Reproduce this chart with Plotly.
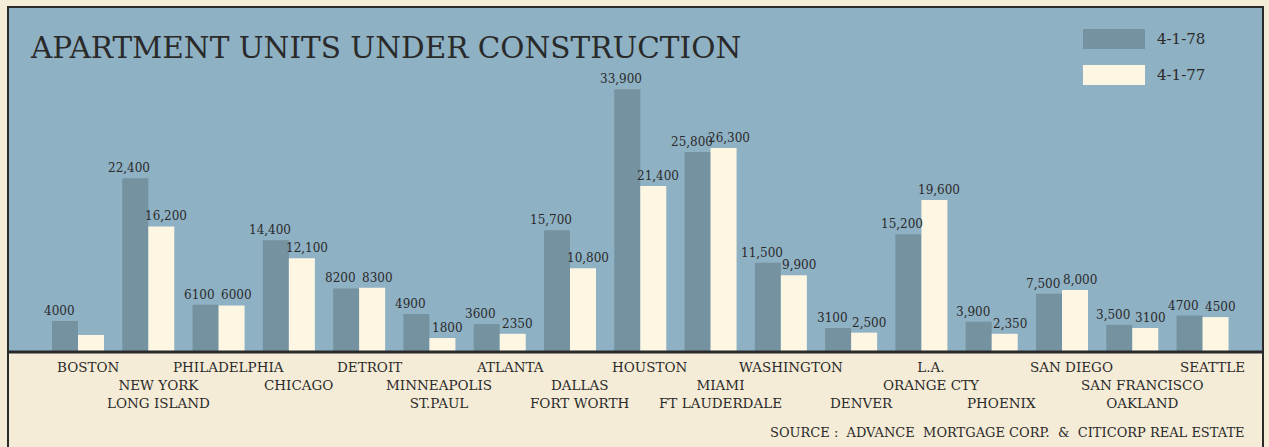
import plotly.graph_objects as go

# ---------------- data ----------------
cities = ["BOSTON", "NEW YORK<br>LONG ISLAND", "PHILADELPHIA", "CHICAGO", "DETROIT",
          "MINNEAPOLIS<br>ST.PAUL", "ATLANTA", "DALLAS<br>FORT WORTH", "HOUSTON",
          "MIAMI<br>FT LAUDERDALE", "WASHINGTON", "DENVER", "L.A.<br>ORANGE CTY",
          "PHOENIX", "SAN DIEGO", "SAN FRANCISCO<br>OAKLAND", "SEATTLE"]
units_78 = [4000, 22400, 6100, 14400, 8200, 4900, 3600, 15700, 33900, 25800,
            11500, 3100, 15200, 3900, 7500, 3500, 4700]
units_77 = [2200, 16200, 6000, 12100, 8300, 1800, 2350, 10800, 21400, 26300,
            9900, 2500, 19600, 2350, 8000, 3100, 4500]
labels_78 = ["4000", "22,400", "6100", "14,400", "8200", "4900", "3600", "15,700",
             "33,900", "25,800", "11,500", "3100", "15,200", "3,900", "7,500", "3,500", "4700"]
labels_77 = ["", "16,200", "6000", "12,100", "8300", "1800", "2350", "10,800",
             "21,400", "26,300", "9,900", "2,500", "19,600", "2,350", "8,000", "3100", "4500"]
series_names = ["4-1-78", "4-1-77"]
title_text = "APARTMENT UNITS UNDER CONSTRUCTION"
source_text = "SOURCE :  ADVANCE  MORTGAGE CORP.  &  CITICORP REAL ESTATE"

# ---------------- style ----------------
BLUE = "#8fb1c4"
DARK = "#74929f"
CREAM_BAR = "#fdf6e3"
CREAM_BG = "#f5ecd7"
INK = "#2a2a2a"
FONT = "DejaVu Serif"
label_row = [0, 1, 0, 1, 0, 1, 0, 1, 0, 1, 0, 2, 0, 2, 0, 1, 0]

fig = go.Figure()
fig.add_trace(go.Bar(x=cities, y=units_78, name=series_names[0], marker_color=DARK,
                     marker_line_width=0, hoverinfo="skip"))
fig.add_trace(go.Bar(x=cities, y=units_77, name=series_names[1], marker_color=CREAM_BAR,
                     marker_line_width=0, hoverinfo="skip"))

fig.update_layout(
    width=1269, height=447,
    margin=dict(l=8, r=6, t=7, b=95),
    paper_bgcolor=CREAM_BG, plot_bgcolor=BLUE,
    barmode="group", bargap=0.26, bargroupgap=0,
    showlegend=False,
    xaxis=dict(range=[-0.996, 16.86], showticklabels=False, showgrid=False,
               zeroline=False, ticks="", fixedrange=True),
    yaxis=dict(range=[0, 44500], showticklabels=False, showgrid=False,
               zeroline=False, ticks="", fixedrange=True),
    font=dict(family=FONT, color=INK),
)

# value labels above bars
for c, v, t in zip(cities, units_78, labels_78):
    if t:
        fig.add_annotation(x=c, y=v, xref="x", yref="y", text=t, showarrow=False,
                           xanchor="center", yanchor="bottom", xshift=-19, yshift=1,
                           font=dict(family=FONT, size=12, color=INK))
for c, v, t in zip(cities, units_77, labels_77):
    if t:
        fig.add_annotation(x=c, y=v, xref="x", yref="y", text=t, showarrow=False,
                           xanchor="center", yanchor="bottom", xshift=18, yshift=1,
                           font=dict(family=FONT, size=12, color=INK))

# category labels below the baseline
for i, c in enumerate(cities):
    fig.add_annotation(x=c, y=0, xref="x", yref="paper", text=c, showarrow=False,
                       xanchor="center", yanchor="top", xshift=10,
                       yshift=-5 - 18 * label_row[i],
                       font=dict(family=FONT, size=13.5, color=INK))

# title
fig.add_annotation(x=0, y=1, xref="paper", yref="paper", text=title_text,
                   showarrow=False, xanchor="left", yanchor="top", xshift=20, yshift=-22,
                   font=dict(family=FONT, size=29.5, color=INK))

# source
fig.add_annotation(x=1, y=0, xref="paper", yref="paper", text=source_text,
                   showarrow=False, xanchor="right", yanchor="middle", xshift=-16, yshift=-80,
                   font=dict(family=FONT, size=13, color=INK))

# manual legend
leg = [(series_names[0], DARK, 39), (series_names[1], CREAM_BAR, 75)]
for name, col, yc in leg:
    fig.add_shape(type="rect", xref="paper", yref="paper",
                  x0=(1083 - 8) / 1255, x1=(1145 - 8) / 1255,
                  y0=(352 - yc - 10) / 345, y1=(352 - yc + 10) / 345,
                  fillcolor=col, line_width=0, layer="above")
    fig.add_annotation(x=(1155 - 8) / 1255, y=(352 - yc) / 345, xref="paper", yref="paper",
                       text=name, showarrow=False, xanchor="left", yanchor="middle",
                       font=dict(family=FONT, size=15, color=INK))

# borders
fig.add_shape(type="rect", xref="paper", yref="paper", x0=0, x1=1, y0=0, y1=1,
              line=dict(color=INK, width=2), layer="above")
fig.add_shape(type="line", xref="paper", yref="paper", x0=0, x1=1, y0=0, y1=0,
              line=dict(color=INK, width=3), layer="above")
fig.add_shape(type="line", xref="paper", yref="paper", x0=0, x1=0, y0=0, y1=-100 / 345,
              line=dict(color=INK, width=2), layer="above")
fig.add_shape(type="line", xref="paper", yref="paper", x0=1, x1=1, y0=0, y1=-100 / 345,
              line=dict(color=INK, width=2), layer="above")

fig.write_html(
    "out.html",
    config={"displayModeBar": False, "staticPlot": True},
    post_script="document.body.style.margin='0';document.body.style.background='%s';"
                "document.body.style.overflow='hidden';" % CREAM_BG,
)
